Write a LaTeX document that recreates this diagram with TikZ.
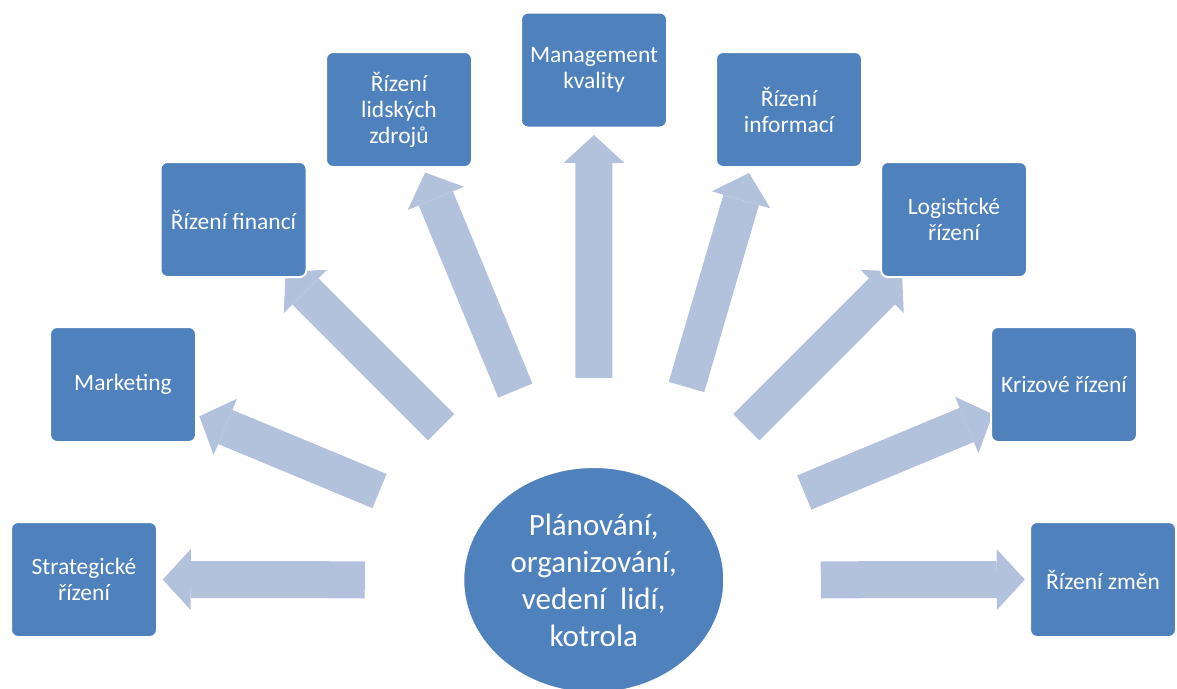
\documentclass[tikz,border=0pt]{standalone}
\usepackage{fontspec}
\setmainfont{Carlito}
\usetikzlibrary{arrows.meta,calc,shapes.geometric,backgrounds}

\definecolor{boxblue}{HTML}{4F81BD}
\definecolor{spokeblue}{HTML}{B2C1DC}

\tikzset{
  area/.style={rectangle,rounded corners=7pt,fill=boxblue,draw=white,line width=2pt,
    minimum width=146pt,minimum height=115pt,inner sep=4pt,text=white,align=center,
    font=\fontsize{23.5}{26}\selectfont},
  hubstyle/.style={ellipse,fill=boxblue,draw=white,line width=2pt,minimum width=261pt,
    minimum height=226pt,inner sep=0pt,text=white,align=center,
    font=\fontsize{31}{37}\selectfont},
  spoke/.style={spokeblue,line width=37pt,
    -{Triangle[width=61pt,length=28pt,line width=0pt]}}
}

\begin{document}
\begin{tikzpicture}[x=1pt,y=-1pt]
\useasboundingbox (0,0) rectangle (1177,688);

\node[hubstyle] (hub) at (593.75,580) {Plánování,\\organizování,\\vedení~ lidí,\\kotrola};

\node[area] (strat) at (84,579.5) {Strategické\\řízení};
\node[area] (mark) at (123,384.5) {Marketing};
\node[area] (fin) at (233.5,219.5) {Řízení financí};
\node[area] (hr) at (399,109.5) {Řízení\\lidských\\zdrojů};
\node[area] (qual) at (594,70) {Management\\kvality};
\node[area] (info) at (789,109.5) {Řízení\\informací};
\node[area] (logi) at (954,219.5) {Logistické\\řízení};
\node[area] (kriz) at (1064,384.5) {Krizové řízení};
\node[area] (zmen) at (1103,579.5) {Řízení změn};

% block arrows behind the boxes
\begin{scope}[on background layer]
\foreach \b/\s/\t in {strat/229/431,mark/232/427,fin/216/436,hr/205/441,
  qual/202/445,logi/216/436,kriz/228/432,zmen/227/431}
  \draw[spoke] ($(hub.center)!\s pt!(\b.center)$) -- ($(hub.center)!\t pt!(\b.center)$);
\coordinate (infoS) at (686.5,387);
\coordinate (infoT) at (749,173);
\draw[spoke] (infoS) -- (infoT);
\end{scope}
\end{tikzpicture}
\end{document}
